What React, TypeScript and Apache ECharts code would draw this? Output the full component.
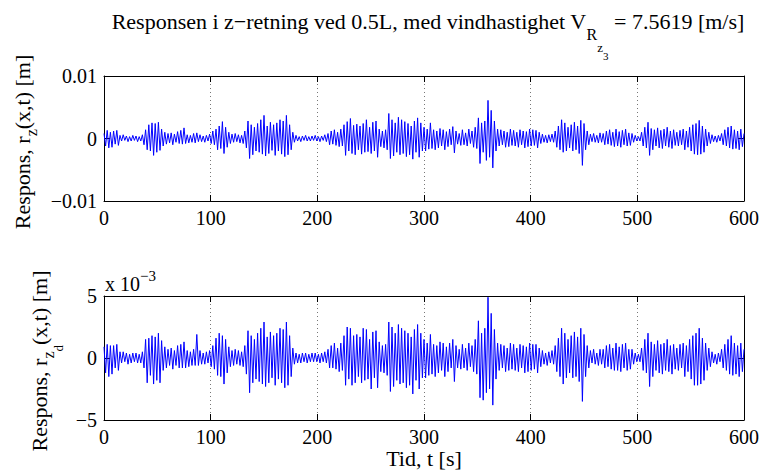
import React, { useEffect, useRef } from "react";
import * as echarts from "echarts";

// Sample spacing of the read-off series (seconds)
const SAMPLE_STEP_S = 1.5;

// Upper plot: response r_z(x,t), values in units of 1e-4 m, one value every 1.5 s from t = 0 to 600 s
const TOP_RESPONSE_1E4M: number[] = [
  8, -12, 13, -15, 10, -14, 12, -9, 13, -11,
  5, -4, 6, -3, 4, -5, 3, -4, 5, -3,
  4, -5, 3, -4, 6, -10, 14, -18, 22, -20,
  25, -27, 24, -22, 26, -19, 15, -12, 10, -9,
  8, -7, 9, -10, 7, -6, 11, -8, 13, -9,
  17, -8, 6, -7, 5, -6, 8, -7, 9, -5,
  6, -5, 4, -6, 5, -4, 7, -8, 12, -10,
  15, -18, 20, -16, 27, -24, 18, -14, 10, -8,
  7, -6, 8, -5, 6, -7, 5, -8, 12, -15,
  28, -32, 22, -26, 18, -20, 24, -22, 30, -25,
  37, -28, 20, -24, 26, -19, 22, -27, 25, -20,
  30, -25, 28, -29, 37, -26, 22, -18, 10, -6,
  5, -4, 3, -5, 4, -3, 5, -4, 3, -4,
  4, -3, 5, -4, 3, -5, 4, -3, 6, -5,
  8, -10, 12, -9, 14, -11, 10, -13, 15, -12,
  22, -27, 27, -20, 32, -24, 21, -26, 23, -18,
  20, -25, 24, -22, 30, -21, 18, -24, 26, -20,
  28, -30, 15, -13, 12, -15, 14, -18, 40, -32,
  30, -28, 25, -22, 34, -26, 30, -24, 27, -29,
  24, -26, 20, -33, 28, -22, 33, -30, 25, -20,
  18, -20, 15, -17, 25, -16, 14, -18, 12, -15,
  16, -12, 14, -18, 11, -13, 15, -10, 19, -23,
  12, -9, 8, -11, 14, -10, 9, -12, 15, -8,
  12, -14, 18, -16, 33, -40, 25, -22, 28, -35,
  61, -30, 45, -47, 28, -20, 15, -12, 14, -10,
  12, -14, 10, -13, 15, -11, 13, -12, 10, -14,
  14, -10, 12, -15, 11, -13, 15, -12, 14, -11,
  13, -15, 10, -8, 7, -6, 5, -7, 6, -5,
  7, -6, 12, -14, 20, -18, 30, -22, 25, -20,
  18, -15, 22, -20, 26, -18, 20, -24, 29, -43,
  24, -18, 12, -10, 7, -5, 8, -6, 5, -7,
  9, -6, 8, -10, 12, -9, 14, -11, 10, -13,
  15, -12, 11, -14, 13, -10, 15, -12, 9, -11,
  8, -6, 5, -4, 3, -4, 10, -12, 18, -15,
  26, -27, 16, -18, 14, -12, 17, -15, 13, -16,
  15, -12, 18, -14, 12, -16, 14, -11, 10, -12,
  13, -10, 15, -18, 12, -14, 18, -20, 22, -25,
  24, -26, 29, -25, 20, -22, 15, -12, 10, -8,
  6, -5, 4, -6, 5, -4, 8, -10, 14, -12,
  18, -15, 20, -17, 14, -16, 12, -18, 15, -13,
  8,
];

// Lower plot: response r_zd(x,t), values in units of 1e-4 m, same sampling
const BOTTOM_RESPONSE_1E4M: number[] = [
  9, -12, 11, -15, 10, -13, 10, -8, 11, -10,
  5, -4, 5, -3, 4, -5, 3, -4, 4, -3,
  4, -4, 3, -4, 5, -8, 15, -20, 16, -14,
  18, -21, 17, -18, 20, -20, 14, -10, 9, -8,
  7, -6, 8, -9, 6, -6, 10, -8, 11, -8,
  13, -8, 6, -7, 5, -6, 7, -6, 19, -6,
  6, -5, 4, -5, 5, -4, 6, -7, 10, -9,
  16, -14, 20, -15, 18, -21, 15, -12, 9, -7,
  6, -6, 7, -5, 6, -6, 5, -7, 10, -13,
  22, -28, 18, -20, 15, -17, 20, -19, 24, -21,
  29, -23, 17, -20, 21, -16, 18, -22, 20, -17,
  24, -20, 23, -24, 29, -22, 18, -15, 8, -5,
  4, -4, 3, -4, 4, -3, 4, -4, 3, -3,
  4, -3, 4, -3, 3, -4, 4, -3, 5, -4,
  7, -8, 10, -8, 12, -9, 8, -11, 12, -10,
  18, -22, 25, -17, 24, -22, 18, -20, 19, -15,
  17, -20, 24, -18, 23, -17, 15, -25, 21, -16,
  22, -24, 13, -11, 10, -12, 11, -14, 29, -27,
  25, -23, 20, -18, 27, -21, 24, -20, 22, -24,
  20, -22, 17, -29, 23, -18, 27, -25, 20, -16,
  15, -16, 12, -14, 19, -13, 11, -15, 10, -12,
  13, -10, 12, -15, 9, -11, 12, -8, 15, -19,
  10, -8, 7, -9, 11, -8, 8, -10, 12, -7,
  10, -11, 15, -13, 30, -32, 20, -34, 24, -28,
  49, -25, 36, -38, 23, -17, 12, -10, 11, -8,
  10, -11, 8, -10, 12, -9, 11, -10, 8, -11,
  11, -8, 10, -12, 9, -11, 12, -10, 11, -9,
  11, -12, 8, -7, 6, -5, 4, -6, 5, -4,
  6, -5, 10, -11, 16, -15, 24, -21, 20, -16,
  15, -12, 18, -16, 21, -15, 17, -19, 24, -35,
  19, -15, 10, -8, 6, -4, 7, -5, 4, -6,
  7, -5, 7, -8, 10, -7, 11, -9, 8, -10,
  12, -10, 9, -11, 11, -8, 12, -10, 7, -9,
  7, -5, 4, -3, 3, -3, 8, -10, 15, -12,
  20, -23, 13, -15, 11, -10, 14, -12, 11, -13,
  12, -10, 15, -11, 10, -13, 11, -9, 8, -10,
  11, -8, 12, -15, 10, -11, 15, -17, 18, -22,
  20, -22, 24, -21, 16, -18, 12, -10, 8, -7,
  5, -4, 3, -5, 4, -3, 7, -8, 11, -10,
  15, -13, 18, -14, 12, -13, 10, -15, 12, -11,
  7,
];

const X_TICKS = [0, 100, 200, 300, 400, 500, 600];
const TOP_Y_TICK_LABELS = ["−0.01", "0", "0.01"];
const BOTTOM_Y_TICK_LABELS = ["−5", "0", "5"];

const TITLE_MAIN = "Responsen i z−retning ved 0.5L, med vindhastighet V";
const TITLE_TAIL = " = 7.5619 [m/s]";
const X_NAME = "Tid, t [s]";

const FONT = "Liberation Serif, Tinos, DejaVu Serif, serif";
const TICK_SIZE = 20;
const LABEL_SIZE = 22;

type Piece = { text: string; size: number; dy: number };

let measureCtx: CanvasRenderingContext2D | null = null;
function measure(text: string, size: number): number {
  if (!measureCtx) {
    const c = document.createElement("canvas");
    measureCtx = c.getContext("2d");
  }
  if (!measureCtx) return text.length * size * 0.5;
  measureCtx.font = `${size}px ${FONT}`;
  return measureCtx.measureText(text).width;
}

function piecesWidth(pieces: Piece[]): number {
  return pieces.reduce((s, p) => s + measure(p.text, p.size), 0);
}

function runElements(pieces: Piece[], startX: number, baselineY: number): any[] {
  let x = startX;
  return pieces.map((p) => {
    const el = {
      type: "text",
      x,
      y: baselineY + p.dy - 0.34 * p.size,
      silent: true,
      style: {
        text: p.text,
        font: `${p.size}px ${FONT}`,
        fill: "#000",
        align: "left",
        verticalAlign: "middle",
      },
    };
    x += measure(p.text, p.size);
    return el;
  });
}

function verticalLabel(pieces: Piece[], baselineX: number, centerY: number): any {
  const w = piecesWidth(pieces);
  return {
    type: "group",
    x: baselineX,
    y: centerY + w / 2,
    rotation: Math.PI / 2,
    children: runElements(pieces, 0, 0),
  };
}

const GRID_LEFT = 104;
const GRID_WIDTH = 640;
const TOP_GRID = { top: 76, height: 125 };
const BOTTOM_GRID = { top: 296, height: 124 };

function toPairs(values: number[]): [number, number][] {
  return values.map((v, i) => [i * SAMPLE_STEP_S, v * 1e-4]);
}

function xAxes(gridIndex: number): any[] {
  const common = {
    gridIndex,
    type: "value",
    min: X_TICKS[0],
    max: X_TICKS[X_TICKS.length - 1],
    interval: X_TICKS[1] - X_TICKS[0],
    axisLine: { show: true, onZero: false, lineStyle: { color: "#000", width: 1 } },
    axisTick: { show: true, inside: true, length: 6, lineStyle: { color: "#000", width: 1 } },
  };
  return [
    {
      ...common,
      position: "bottom",
      axisLabel: {
        show: true,
        margin: 7,
        fontSize: TICK_SIZE,
        fontFamily: FONT,
        color: "#000",
        formatter: (v: number) => String(v),
      },
      splitLine: {
        show: true,
        lineStyle: { color: "#777", width: 1, type: [1, 3] },
      },
    },
    {
      ...common,
      position: "top",
      axisLabel: { show: false },
      splitLine: { show: false },
    },
  ];
}

function yAxes(gridIndex: number, maxVal: number, labels: string[]): any[] {
  const common = {
    gridIndex,
    type: "value",
    min: -maxVal,
    max: maxVal,
    interval: maxVal,
    axisLine: { show: true, onZero: false, lineStyle: { color: "#000", width: 1 } },
    axisTick: { show: true, inside: true, length: 6, lineStyle: { color: "#000", width: 1 } },
    splitLine: { show: false },
  };
  return [
    {
      ...common,
      position: "left",
      axisLabel: {
        show: true,
        margin: 7,
        fontSize: TICK_SIZE,
        fontFamily: FONT,
        color: "#000",
        formatter: (v: number) => {
          const idx = Math.round(v / maxVal) + 1;
          return labels[idx] ?? "";
        },
      },
    },
    {
      ...common,
      position: "right",
      axisLabel: { show: false },
    },
  ];
}

export default function App() {
  const ref = useRef<HTMLDivElement>(null);

  useEffect(() => {
    if (!ref.current) return;
    const chart = echarts.init(ref.current, undefined, { renderer: "svg" });

    const titlePieces: Piece[] = [
      { text: TITLE_MAIN, size: LABEL_SIZE, dy: 0 },
      { text: "R", size: 16, dy: 11 },
      { text: "z", size: 13, dy: 23 },
      { text: "3", size: 11, dy: 31 },
      { text: TITLE_TAIL, size: LABEL_SIZE, dy: 0 },
    ];
    const titleW = piecesWidth(titlePieces);
    const titleEls = runElements(titlePieces, 428 - titleW / 2, 29);

    const expPieces: Piece[] = [
      { text: "x 10", size: TICK_SIZE, dy: 0 },
      { text: "−3", size: 15, dy: -10 },
    ];
    const expEls = runElements(expPieces, 105, 291);

    const xNameEl = {
      type: "text",
      x: 424,
      y: 469.5,
      silent: true,
      style: {
        text: X_NAME,
        font: `${LABEL_SIZE}px ${FONT}`,
        fill: "#000",
        align: "center",
        verticalAlign: "bottom",
      },
    };

    const topYLabel = verticalLabel(
      [
        { text: "Respons, r", size: LABEL_SIZE, dy: 0 },
        { text: "z", size: 16, dy: 7 },
        { text: "(x,t) [m]", size: LABEL_SIZE, dy: 0 },
      ],
      30,
      142
    );
    const bottomYLabel = verticalLabel(
      [
        { text: "Respons, r", size: LABEL_SIZE, dy: 0 },
        { text: "z", size: 16, dy: 7 },
        { text: "d", size: 13, dy: 16 },
        { text: "(x,t) [m]", size: LABEL_SIZE, dy: 0 },
      ],
      47,
      361
    );

    chart.setOption({
      animation: false,
      backgroundColor: "#fff",
      textStyle: { fontFamily: FONT },
      grid: [
        { left: GRID_LEFT, width: GRID_WIDTH, top: TOP_GRID.top, height: TOP_GRID.height, show: false },
        { left: GRID_LEFT, width: GRID_WIDTH, top: BOTTOM_GRID.top, height: BOTTOM_GRID.height, show: false },
      ],
      xAxis: [...xAxes(0), ...xAxes(1)],
      yAxis: [
        ...yAxes(0, 0.01, TOP_Y_TICK_LABELS),
        ...yAxes(1, 0.005, BOTTOM_Y_TICK_LABELS),
      ],
      series: [
        {
          type: "line",
          xAxisIndex: 0,
          yAxisIndex: 0,
          data: toPairs(TOP_RESPONSE_1E4M),
          showSymbol: false,
          symbol: "none",
          clip: true,
          lineStyle: { color: "#0000ff", width: 1 },
          itemStyle: { color: "#0000ff" },
          z: 3,
        },
        {
          type: "line",
          xAxisIndex: 2,
          yAxisIndex: 2,
          data: toPairs(BOTTOM_RESPONSE_1E4M),
          showSymbol: false,
          symbol: "none",
          clip: true,
          lineStyle: { color: "#0000ff", width: 1 },
          itemStyle: { color: "#0000ff" },
          z: 3,
        },
      ],
      graphic: [...titleEls, ...expEls, xNameEl, topYLabel, bottomYLabel],
    });

    return () => {
      chart.dispose();
    };
  }, []);

  return (
    <div
      ref={ref}
      style={{ position: "fixed", left: 0, top: 0, width: 764, height: 470, background: "#fff" }}
    />
  );
}
